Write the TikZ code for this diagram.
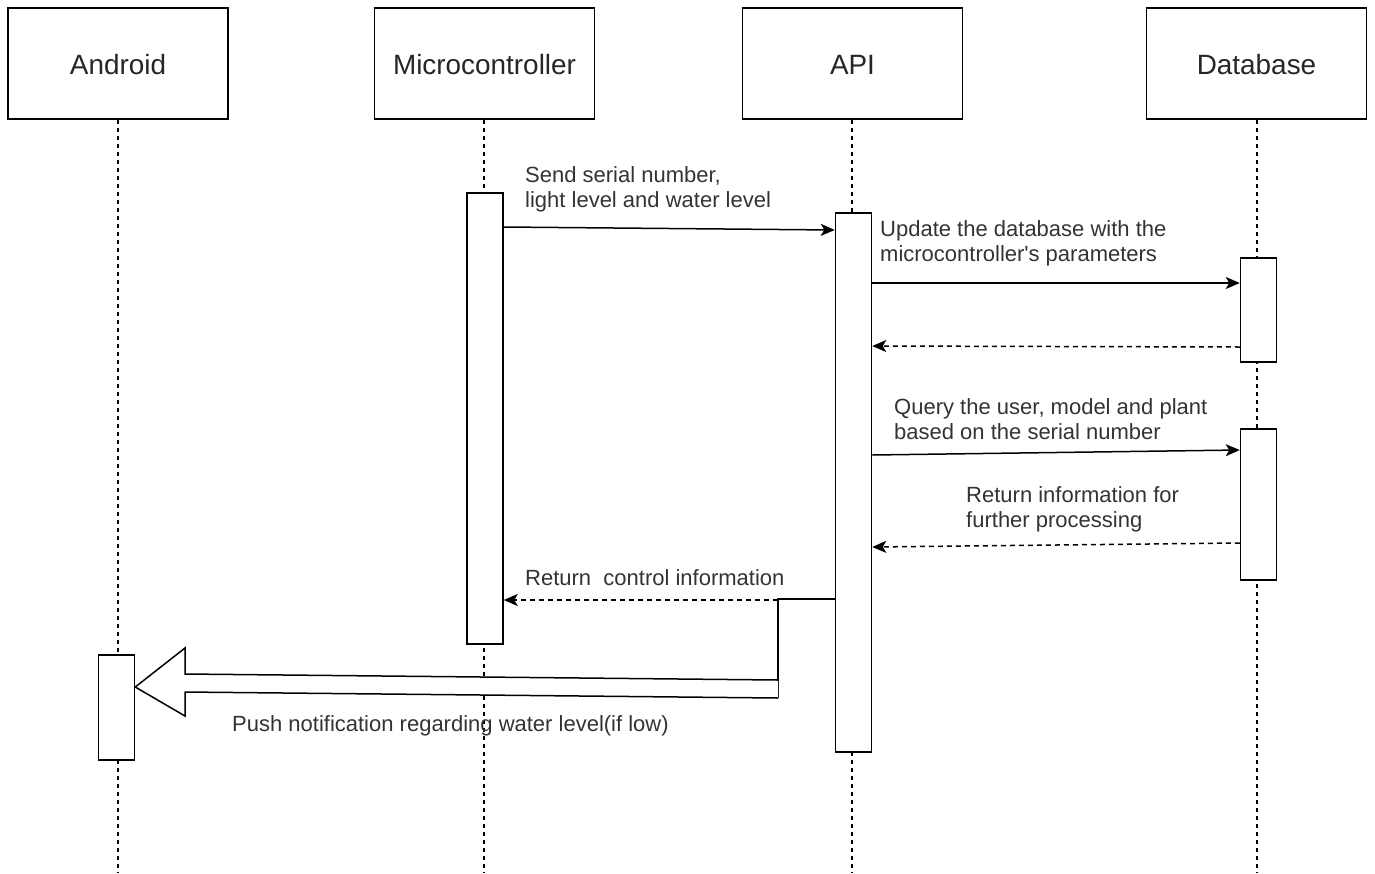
\documentclass[tikz,border=0pt]{standalone}
\usepackage{fontspec}
\setmainfont{Liberation Sans}
\usetikzlibrary{arrows.meta}
\begin{document}
\begin{tikzpicture}[x=1pt,y=-1pt,
  head/.style={draw, line width=1.3pt, minimum width=220pt, minimum height=111pt, inner sep=0pt,
    text height=23pt, text depth=2pt,
    font=\fontsize{27.9}{33}\selectfont, text=black!85},
  act/.style={draw, line width=1.5pt, fill=white, minimum width=36pt, inner sep=0pt},
  life/.style={line width=1.2pt, dash pattern=on 4pt off 4pt},
  msg/.style={line width=1.5pt, -{Stealth[length=14pt,width=12pt,inset=3.5pt]}},
  ret/.style={msg, dash pattern=on 5pt off 4pt},
  lbl/.style={anchor=north west, inner sep=0pt, align=left, text=black!80,
    font=\fontsize{22}{25.5}\selectfont}]
\useasboundingbox (0,0) rectangle (1375,873);
% headers
\node[head] (andr) at (118,63.5) {Android};
\node[head] (mc) at (484.5,63.5) {Microcontroller};
\node[head] (api) at (852.5,63.5) {API};
\node[head] (db) at (1256.5,63.5) {Database};
% lifeline ends
\coordinate (andrend) at (118,873);
\coordinate (mcend) at (484,873);
\coordinate (apiend) at (852,873);
\coordinate (dbend) at (1257,873);
\draw[life] (andr.south -| andrend) -- (andrend);
\draw[life] (mc.south -| mcend) -- (mcend);
\draw[life] (api.south -| apiend) -- (apiend);
\draw[life] (db.south -| dbend) -- (dbend);
% activations
\node[act, minimum height=451pt] (mact) at (485,418.5) {};
\node[act, minimum height=539pt] (aact) at (853.5,482.5) {};
\node[act, minimum height=104pt] (dact1) at (1258.5,310) {};
\node[act, minimum height=151pt] (dact2) at (1258.5,504.5) {};
\node[act, minimum height=105pt] (nact) at (116.5,707.5) {};
% messages
\draw[msg] (mact.east |- 0,227) -- (aact.west |- 0,230);
\node[lbl] (l1) at (525,166) {Send serial number,\\light level and water level};
\draw[msg] (aact.east |- 0,283) -- (dact1.west |- 0,283);
\node[lbl] (l2) at (880,220) {Update the database with the\\microcontroller\textquotesingle s parameters};
\draw[ret] (dact1.west |- 0,347) -- (aact.east |- 0,346);
\draw[msg] (aact.east |- 0,455) -- (dact2.west |- 0,450);
\node[lbl] (l3) at (894,398) {Query the user, model and plant\\based on the serial number};
\draw[ret] (dact2.west |- 0,543) -- (aact.east |- 0,547);
\node[lbl] (l4) at (966,486) {Return information for\\further processing};
% return control + push
\coordinate (split) at (778,599);
\draw[line width=1.5pt] (aact.west |- split) -- (split) -- (778,698);
\draw[ret] (778,600) -- (mact.east |- 0,600);
\node[lbl] (l5) at (525,569) {Return~~control information};
\draw[line width=1.5pt, fill=white, line join=miter]
  (778,680) -- (185,674) -- (185,648) -- (nact.east |- 0,687) -- (185,716) -- (185,692) -- (778,698);
\node[lbl] (l6) at (232,715) {Push notification regarding water level(if low)};
\end{tikzpicture}
\end{document}
